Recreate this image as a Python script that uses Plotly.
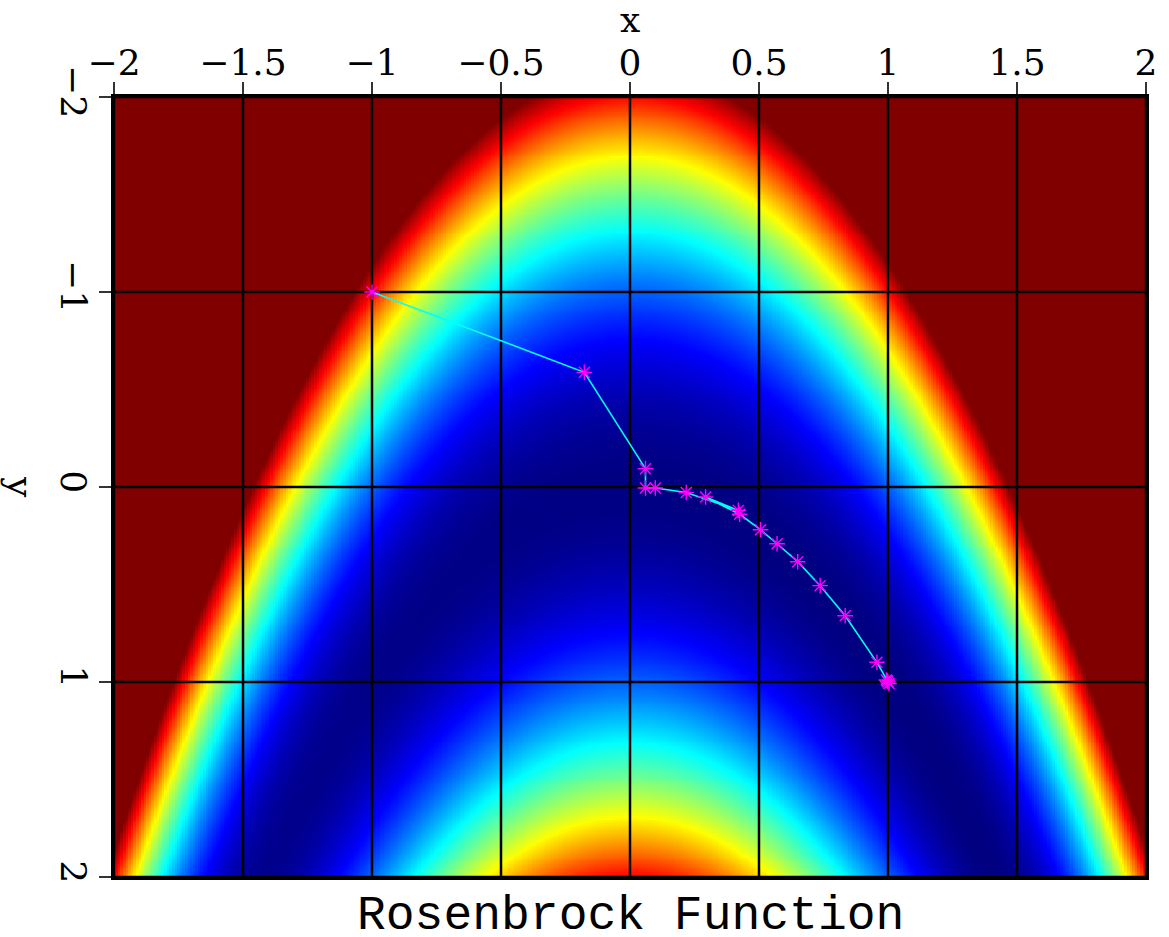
import numpy as np
import plotly.graph_objects as go

# Axis ticks
x_ticks = [-2, -1.5, -1, -0.5, 0, 0.5, 1, 1.5, 2]
x_tick_text = ["\u22122", "\u22121.5", "\u22121", "\u22120.5", "0", "0.5", "1", "1.5", "2"]
y_ticks = [-2, -1, 0, 1, 2]
y_tick_text = ["\u22122", "\u22121", "0", "1", "2"]

# Evaluation grid for the Rosenbrock surface
x_grid = np.linspace(-2, 2, 401)
y_grid = np.linspace(-2, 2, 401)
X, Y = np.meshgrid(x_grid, y_grid)
Z = np.round((1 - X) ** 2 + 100 * (Y - X ** 2) ** 2, 2)
z_clip = 460

# Optimizer iterates
path_x = [-1.0, -0.177, 0.06, 0.06, 0.098, 0.218, 0.42, 0.293, 0.425, 0.506,
          0.570, 0.650, 0.737, 0.834, 0.957, 0.994, 1.004, 0.997, 1.0]
path_y = [-1.0, -0.588, -0.094, 0.005, 0.005, 0.028, 0.12, 0.051, 0.14, 0.219,
          0.291, 0.383, 0.506, 0.660, 0.899, 0.99, 1.008, 0.994, 1.0]

jet = [
    [0.0, "rgb(0,0,128)"],
    [0.125, "rgb(0,0,255)"],
    [0.375, "rgb(0,255,255)"],
    [0.625, "rgb(255,255,0)"],
    [0.875, "rgb(255,0,0)"],
    [1.0, "rgb(128,0,0)"],
]

TICK_FONT = "DejaVu Serif"
TITLE_FONT = "Liberation Mono"

fig = go.Figure()
fig.add_trace(go.Heatmap(
    x=x_grid, y=y_grid, z=Z, zmin=0, zmax=z_clip,
    colorscale=jet, showscale=False, hoverinfo="skip",
))

# Grid lines drawn above the surface, below the path
for v in x_ticks:
    fig.add_trace(go.Scatter(x=[v, v], y=[y_ticks[0], y_ticks[-1]], mode="lines",
                             line=dict(color="black", width=2.5),
                             showlegend=False, hoverinfo="skip"))
for v in y_ticks:
    fig.add_trace(go.Scatter(x=[x_ticks[0], x_ticks[-1]], y=[v, v], mode="lines",
                             line=dict(color="black", width=2.5),
                             showlegend=False, hoverinfo="skip"))

fig.add_trace(go.Scatter(
    x=path_x, y=path_y, mode="lines+markers",
    line=dict(color="#00ffff", width=1.6),
    marker=dict(symbol="asterisk-open", size=13, color="#ff00ff",
                line=dict(color="#ff00ff", width=1.4)),
    showlegend=False,
))

axis_common = dict(
    showgrid=False, zeroline=False,
    showline=True, linecolor="black", linewidth=2.5, mirror=True,
    ticks="outside", ticklen=12, tickwidth=1.5, tickcolor="#333",
    tickfont=dict(family=TICK_FONT, size=36, color="black"),
    layer="above traces",
)

fig.update_layout(
    width=1169, height=937,
    margin=dict(l=114, r=17, t=97, b=60),
    paper_bgcolor="white", plot_bgcolor="white",
    xaxis=dict(range=[-2, 2], side="top", tickmode="array",
               tickvals=x_ticks, ticktext=x_tick_text, ticklabelstandoff=-7,
               **axis_common),
    yaxis=dict(range=[2, -2], tickmode="array", tickvals=y_ticks,
               ticktext=y_tick_text, tickangle=90, ticklabelstandoff=-5,
               **axis_common),
    annotations=[
        dict(text="x", xref="paper", yref="paper", x=0.5, y=1.0,
             yanchor="middle", yshift=78, showarrow=False,
             font=dict(family=TICK_FONT, size=36, color="black")),
        dict(text="y", xref="paper", yref="y", x=0, xanchor="center",
             xshift=-93, y=0, yanchor="middle", textangle=90, showarrow=False,
             font=dict(family=TICK_FONT, size=36, color="black")),
        dict(text="Rosenbrock Function", xref="paper", yref="paper",
             x=0.5, y=0, yanchor="middle", yshift=-39, showarrow=False,
             font=dict(family=TITLE_FONT, size=48, color="black")),
    ],
)

fig.write_html("out.html")
